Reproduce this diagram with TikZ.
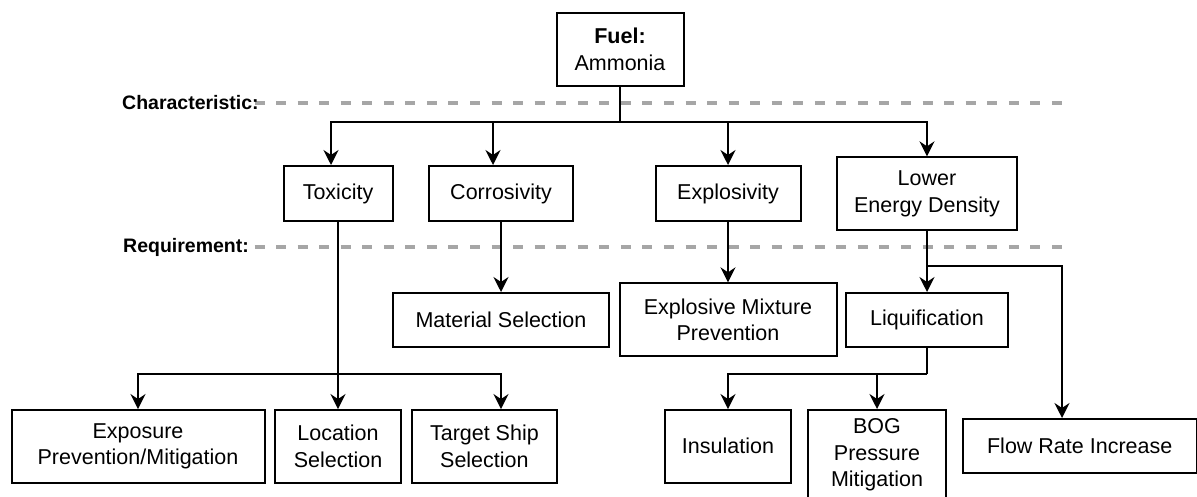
\documentclass[tikz,border=0pt]{standalone}
\usepackage{fontspec}
\setmainfont{Liberation Sans}
\usetikzlibrary{arrows.meta}
\definecolor{dashgray}{HTML}{A6A6A6}
\begin{document}
\begin{tikzpicture}[x=1pt,y=-1pt,
  box/.style={draw=black, line width=2pt, fill=white, inner sep=0pt, align=center,
    font=\fontsize{21.5}{26.6}\selectfont},
  conn/.style={draw=black, line width=2pt, -{Stealth[length=15pt,width=15pt,inset=5pt]}},
  plain/.style={draw=black, line width=2pt},
  sep/.style={draw=dashgray, line width=3.5pt, dash pattern=on 10pt off 11.55pt},
  lbl/.style={anchor=west, inner sep=0pt, font=\fontsize{19.5}{23}\selectfont\bfseries}]
\path[use as bounding box] (0,0) rectangle (1197,497);
\clip (0,0) rectangle (1197,497);

% separators
\coordinate (c1s) at (254.5,103);
\coordinate (c1e) at (1062,103);
\coordinate (c2s) at (254.5,247);
\coordinate (c2e) at (1062,247);
\draw[sep] (c1s) -- (c1e);
\draw[sep] (c2s) -- (c2e);
\node[lbl] (charlbl) at (122,103) {Characteristic:};
\node[lbl] (reqlbl) at (123,247) {Requirement:};

% nodes
\node[box, minimum width=127pt, minimum height=72.5pt] (fuel) at (620,49.5) {\textbf{Fuel:}\\Ammonia};
\node[box, minimum width=109pt, minimum height=55pt] (tox) at (338,193.5) {Toxicity};
\node[box, minimum width=144pt, minimum height=55pt] (cor) at (501,193.5) {Corrosivity};
\node[box, minimum width=145pt, minimum height=55pt] (expl) at (728,193.5) {Explosivity};
\node[box, minimum width=180.6pt, minimum height=72.7pt] (led) at (927,193.7) {Lower\\Energy Density};

\node[box, minimum width=216.5pt, minimum height=54pt] (mat) at (501,320) {Material Selection};
\node[box, minimum width=217pt, minimum height=72.7pt] (emp) at (728,319.7) {Explosive Mixture\\Prevention};
\node[box, minimum width=162.7pt, minimum height=54pt] (liq) at (927,320) {Liquification};

\node[box, minimum width=253pt, minimum height=72.5pt] (expo) at (138,446.3) {Exposure\\Prevention/Mitigation};
\node[box, minimum width=126.3pt, minimum height=72.5pt] (loc) at (338,446.3) {Location\\Selection};
\node[box, minimum width=144.8pt, minimum height=72.5pt] (tgt) at (484.4,446.3) {Target Ship\\Selection};
\node[box, minimum width=126pt, minimum height=72.5pt] (insul) at (728,446.3) {Insulation};
\node[box, minimum width=138pt, minimum height=90pt] (bog) at (877,455) {BOG\\Pressure\\Mitigation};
\node[box, minimum width=233.7pt, minimum height=54pt] (flow) at (1079.7,446) {Flow Rate Increase};

% connectors
\coordinate (fj) at (620,121.7);
\draw[plain] (fuel.south) -- (fj);
\draw[conn] (fj) -| ([xshift=-7pt]tox.north);
\draw[conn] (fj) -| ([xshift=-8pt]cor.north);
\draw[conn] (fj) -| (expl.north);
\draw[conn] (fj) -| (led.north);

\coordinate (tj) at (338,374);
\draw[conn] (tox.south) -- (loc.north);
\draw[conn] (tj) -| (expo.north);
\draw[conn] (tj) -| ([xshift=16.6pt]tgt.north);

\draw[conn] (cor.south) -- (mat.north);
\draw[conn] (expl.south) -- (emp.north);
\draw[conn] (led.south) -- (liq.north);

\coordinate (lj) at (927,266);
\draw[conn] (lj) -| ([xshift=-17.7pt]flow.north);

\coordinate (qj) at (927,374);
\draw[plain] (liq.south) -- (qj);
\draw[conn] (qj) -| (insul.north);
\draw[conn] (qj) -| (bog.north);
\end{tikzpicture}
\end{document}
